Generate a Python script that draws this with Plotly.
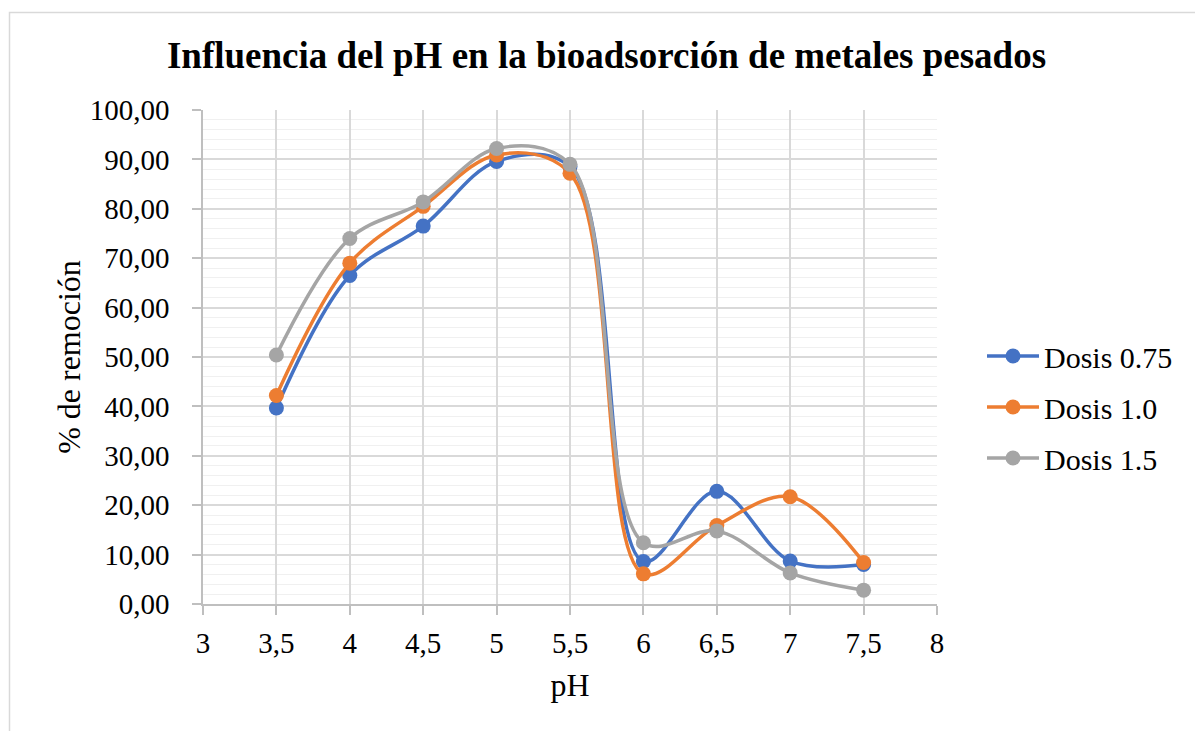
import plotly.graph_objects as go

# pH values and removal percentages for each biosorbent dose
ph = [3.5, 4, 4.5, 5, 5.5, 6, 6.5, 7, 7.5]
dosis_075 = [39.7, 66.5, 76.5, 89.6, 88.5, 8.6, 22.8, 8.7, 8.0]
dosis_10 = [42.2, 69.0, 80.5, 90.9, 87.2, 6.1, 15.9, 21.7, 8.4]
dosis_15 = [50.4, 74.0, 81.4, 92.2, 89.0, 12.4, 14.8, 6.3, 2.8]

series_names = ["Dosis 0.75", "Dosis 1.0", "Dosis 1.5"]
series_colors = ["#4472C4", "#ED7D31", "#A5A5A5"]

W, H = 1195, 731
L, R, T, B = 203, 258, 110, 127
PW, PH = W - L - R, H - T - B

SERIF = "Liberation Serif, Times New Roman, serif"

fig = go.Figure()
for name, ys, color, grp in zip(series_names, [dosis_075, dosis_10, dosis_15], series_colors, ["g1", "g2", "g3"]):
    fig.add_trace(go.Scatter(
        x=ph, y=ys, name=name, mode="lines+markers",
        legendgroup=grp,
        line=dict(color=color, width=3.5, shape="spline", smoothing=1.0),
        marker=dict(color=color, size=15),
    ))

def px_x(px):
    return (px - L) / PW

def px_y(py):
    return (H - B - py) / PH

# light frame around the chart area
fig.add_shape(type="rect", xref="paper", yref="paper",
              x0=px_x(9.5), x1=px_x(1205), y0=px_y(741), y1=px_y(12.5),
              line=dict(color="#d9d9d9", width=1.5), fillcolor="rgba(0,0,0,0)", layer="below")

fig.update_layout(
    width=W, height=H,
    margin=dict(l=L, r=R, t=T, b=B, autoexpand=False),
    paper_bgcolor="white", plot_bgcolor="white",
    separators=",.",
    font=dict(family=SERIF, size=29, color="black"),
    title=dict(text="<b>Influencia del pH en la bioadsorción de metales pesados</b>",
               x=606.5 / W, xanchor="center", xref="container",
               y=1 - 55 / H, yanchor="middle", yref="container",
               font=dict(family=SERIF, size=37, color="black")),
    xaxis=dict(
        range=[3, 8], dtick=0.5, tick0=3,
        showgrid=True, gridcolor="#d9d9d9", gridwidth=1.5,
        showline=True, linecolor="#bfbfbf", linewidth=1.5,
        ticks="outside", ticklen=9, tickcolor="#bfbfbf", tickwidth=1.5,
        ticklabelstandoff=3,
        zeroline=False,
        title=dict(text="pH", standoff=16, font=dict(family=SERIF, size=32, color="black")),
        tickfont=dict(size=29),
    ),
    yaxis=dict(
        range=[0, 100], dtick=10, tick0=0, tickformat=".2f",
        showgrid=True, gridcolor="#d9d9d9", gridwidth=1.5,
        minor=dict(dtick=2, showgrid=True, gridcolor="#f0f0f0", gridwidth=1.2),
        showline=True, linecolor="#bfbfbf", linewidth=1.5,
        ticks="outside", ticklen=9, tickcolor="#bfbfbf", tickwidth=1.5,
        ticklabelstandoff=17,
        zeroline=False,
        title=dict(text="% de remoción", standoff=0, font=dict(family=SERIF, size=32, color="black")),
        tickfont=dict(size=29),
    ),
    legend=dict(
        x=px_x(982), xanchor="left", y=px_y(330), yanchor="top",
        font=dict(family=SERIF, size=30),
        itemwidth=52, tracegroupgap=9,
        bgcolor="rgba(0,0,0,0)",
    ),
    showlegend=True,
)

fig.write_html("out.html")
